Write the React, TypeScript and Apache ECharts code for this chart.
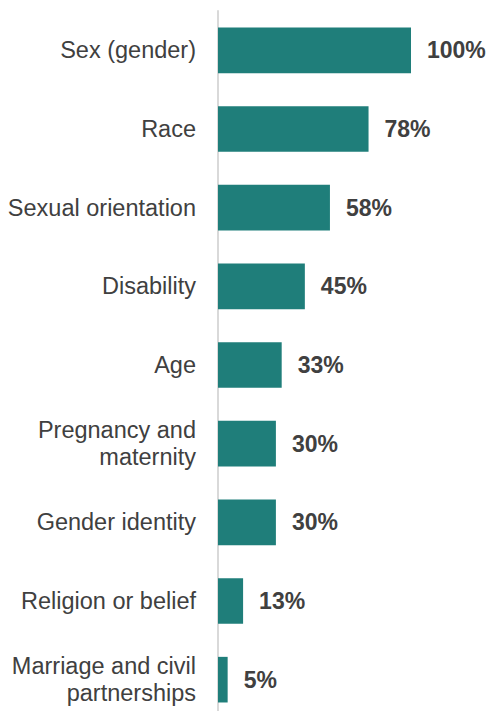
import React, { useEffect, useRef } from "react";
import * as echarts from "echarts";

const categories = [
  "Sex (gender)",
  "Race",
  "Sexual orientation",
  "Disability",
  "Age",
  "Pregnancy and\nmaternity",
  "Gender identity",
  "Religion or belief",
  "Marriage and civil\npartnerships",
];
const values = [100, 78, 58, 45, 33, 30, 30, 13, 5];

export default function App() {
  const ref = useRef<HTMLDivElement>(null);
  useEffect(() => {
    if (!ref.current) return;
    const chart = echarts.init(ref.current, undefined, { renderer: "svg" });
    chart.setOption({
      animation: false,
      backgroundColor: "#ffffff",
      grid: { left: 218, top: 11, width: 193, height: 708, containLabel: false },
      xAxis: {
        type: "value",
        min: 0,
        max: 100,
        show: false,
      },
      yAxis: {
        type: "category",
        data: categories,
        inverse: true,
        axisLine: { show: true, lineStyle: { color: "#d9d9d9", width: 2 } },
        axisTick: { show: false },
        splitLine: { show: false },
        axisLabel: {
          margin: 22,
          fontFamily: "Liberation Sans, Arial, sans-serif",
          fontSize: 23.5,
          lineHeight: 27,
          color: "#404040",
          align: "right",
        },
      },
      series: [
        {
          type: "bar",
          data: values,
          barCategoryGap: "42%",
          itemStyle: { color: "#1f7e7a" },
          label: {
            show: true,
            position: "right",
            distance: 16,
            formatter: "{c}%",
            fontFamily: "Liberation Sans, Arial, sans-serif",
            fontSize: 23,
            fontWeight: "bold",
            color: "#404040",
          },
        },
      ],
    });
    return () => chart.dispose();
  }, []);
  return (
    <div
      ref={ref}
      style={{ position: "fixed", left: 0, top: 0, width: 489, height: 730 }}
    />
  );
}
